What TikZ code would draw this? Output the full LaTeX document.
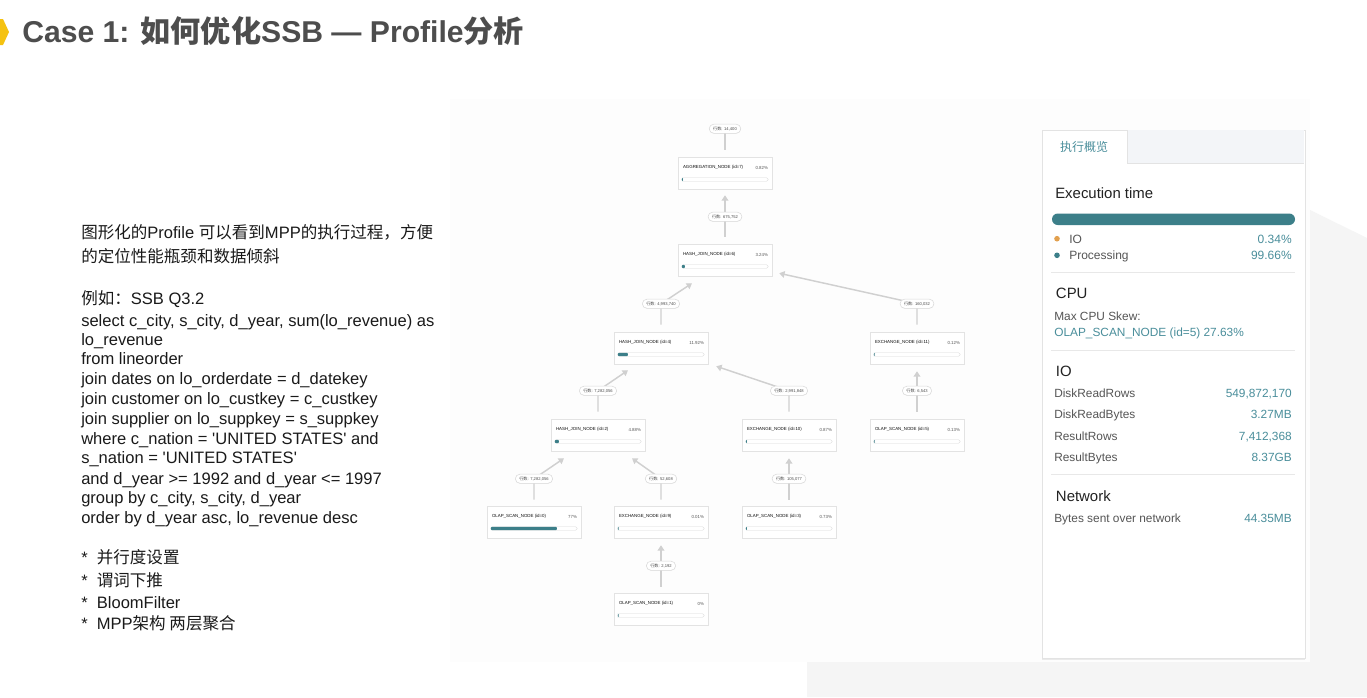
\documentclass[tikz,border=0pt]{standalone}
\usepackage{fontspec}
\setmainfont{Liberation Sans}
\newfontfamily\cjk{Noto Sans CJK SC}
\usetikzlibrary{calc,arrows.meta,shadows}
\definecolor{titlegray}{HTML}{4D4D4D}
\definecolor{chev}{HTML}{F5C211}
\definecolor{txtblack}{HTML}{1A1A1A}
\definecolor{teal1}{HTML}{3C7F89}
\definecolor{tealtxt}{HTML}{4A8E9B}
\definecolor{edgegray}{HTML}{D0D0D0}
\definecolor{boxborder}{HTML}{E3E3E3}
\definecolor{labborder}{HTML}{D9D9D9}
\definecolor{tabgray}{HTML}{F3F5F8}
\definecolor{sepgray}{HTML}{E8E8E8}
\definecolor{dotorange}{HTML}{E2A04E}
\definecolor{graytxt}{HTML}{555555}
\definecolor{darktxt}{HTML}{222222}
\definecolor{shotbg}{HTML}{FDFDFD}
\definecolor{bgpoly}{HTML}{F5F5F5}
\tikzset{
  pbox/.style={draw=boxborder, line width=0.4pt, fill=white, minimum width=70.5pt, minimum height=24pt, inner sep=0pt,
    drop shadow={opacity=0.12, shadow xshift=0pt, shadow yshift=-0.7pt}},
  ptitle/.style={font=\fontsize{3.3}{4}\selectfont, text=black!95, inner sep=0pt, anchor=west},
  ppct/.style={font=\fontsize{3.3}{4}\selectfont, text=black!65, inner sep=0pt, anchor=east},
  bartrack/.style={draw=labborder, line width=0.3pt, fill=white, rounded corners=1.2pt},
  edge/.style={draw=edgegray, line width=1.1pt},
  arr/.style={edge, -{Triangle[length=4pt,width=5pt]}},
  lab/.style={draw=labborder, fill=white, rounded corners=3.4pt, line width=0.4pt, minimum height=6.8pt,
    inner xsep=3pt, inner ysep=0pt, font=\fontsize{3.1}{4}\selectfont, text=black!70,
    drop shadow={opacity=0.08, shadow xshift=0pt, shadow yshift=-0.4pt}},
  body/.style={anchor=base west, inner sep=0pt, font=\fontsize{12.4}{14}\selectfont, text=txtblack},
  phead/.style={anchor=base west, inner sep=0pt, font=\fontsize{11.2}{13}\selectfont, text=darktxt},
  pkey/.style={anchor=base west, inner sep=0pt, font=\fontsize{8.9}{11}\selectfont, text=graytxt},
  pval/.style={anchor=base east, inner sep=0pt, font=\fontsize{8.9}{11}\selectfont, text=tealtxt},
  sepline/.style={draw=sepgray, line width=0.6pt}
}
\newcommand\treenode[6]{%
  \node[pbox] (#1) at (#2,#3) {};
  \node[ptitle] (#1-t) at ($(#1.north west)+(5,11)$) {#4};
  \node[ppct] (#1-p) at ($(#1.north east)+(-4,11)$) {#5};
  \draw[bartrack] ($(#1.north west)+(4,21)$) rectangle ($(#1.north east)+(-4,24.5)$);
  \fill[teal1, rounded corners=0.6pt] ($(#1.north west)+(4.2,21.2)$) rectangle ($(#1.north west)+(4.2+#6,24.3)$);
}
\newcommand\rowlab[1]{{\cjk 行数}: #1}
\begin{document}
\begin{tikzpicture}[x=0.75pt,y=-0.75pt]
\useasboundingbox (0,0) rectangle (1367,697);
\fill[white] (0,0) rectangle (1367,697);
% backgrounds
\fill[bgpoly] (1310,210) -- (1367,238) -- (1367,697) -- (807,697) -- (807,662) -- (1310,662) -- cycle;
\fill[shotbg] (450,99) rectangle (1310,662);
% title
\fill[chev] (0,19) -- (3,19) -- (9,32) -- (3,45) -- (0,45) -- cycle;
\node[anchor=base west, inner sep=0pt, font=\fontsize{22.6}{27}\selectfont\bfseries, text=titlegray] (title) at (22,42)
  {Case 1: {\cjk 如何优化}SSB — Profile{\cjk 分析}};
% left text
\node[body] (t1) at (81,238) {{\cjk 图形化的}Profile {\cjk 可以看到}MPP{\cjk 的执行过程，方便}};
\node[body] (t2) at (81,262) {{\cjk 的定位性能瓶颈和数据倾斜}};
\node[body] (t3) at (81,304) {{\cjk 例如：}SSB Q3.2};
\node[body] (t4) at (81,326) {select c\_city, s\_city, d\_year, sum(lo\_revenue) as};
\node[body] (t5) at (81,345) {lo\_revenue};
\node[body] (t6) at (81,364) {from lineorder};
\node[body] (t7) at (81,384) {join dates on lo\_orderdate = d\_datekey};
\node[body] (t8) at (81,404) {join customer on lo\_custkey = c\_custkey};
\node[body] (t9) at (81,424) {join supplier on lo\_suppkey = s\_suppkey};
\node[body] (t10) at (81,444) {where c\_nation = \textquotesingle UNITED STATES\textquotesingle{} and};
\node[body] (t11) at (81,463) {s\_nation = \textquotesingle UNITED STATES\textquotesingle};
\node[body] (t12) at (81,484) {and d\_year >= 1992 and d\_year <= 1997};
\node[body] (t13) at (81,503) {group by c\_city, s\_city, d\_year};
\node[body] (t14) at (81,523) {order by d\_year asc, lo\_revenue desc};
\node[body] (t15) at (81,563) {*\ \ {\cjk 并行度设置}};
\node[body] (t16) at (81,586) {*\ \ {\cjk 谓词下推}};
\node[body] (t17) at (81,608) {*\ \ BloomFilter};
\node[body] (t18) at (81,629) {*\ \ MPP{\cjk 架构 两层聚合}};
% tree nodes
\treenode{AGG7}{725}{173}{AGGREGATION\_NODE (id=7)}{0.82\%}{1}
\treenode{HJ6}{725}{260}{HASH\_JOIN\_NODE (id=6)}{3.24\%}{3}
\treenode{HJ4}{661}{348}{HASH\_JOIN\_NODE (id=4)}{11.92\%}{10}
\treenode{EX11}{917}{348}{EXCHANGE\_NODE (id=11)}{0.12\%}{0.8}
\treenode{HJ2}{598}{435}{HASH\_JOIN\_NODE (id=2)}{4.88\%}{4}
\treenode{EX10}{789}{435}{EXCHANGE\_NODE (id=10)}{0.87\%}{1}
\treenode{OS5}{917}{435}{OLAP\_SCAN\_NODE (id=5)}{0.13\%}{0.8}
\treenode{OS0}{534}{522}{OLAP\_SCAN\_NODE (id=0)}{77\%}{66}
\treenode{EX9}{661}{522}{EXCHANGE\_NODE (id=9)}{0.01\%}{0.8}
\treenode{OS3}{789}{522}{OLAP\_SCAN\_NODE (id=3)}{0.73\%}{1}
\treenode{OS1}{661}{609}{OLAP\_SCAN\_NODE (id=1)}{0\%}{0.6}
% bends
\coordinate (bAGG7) at ($(AGG7.north)+(0,-28)$);
\coordinate (bHJ6) at ($(HJ6.north)+(0,-27)$);
\coordinate (bHJ4) at ($(HJ4.north)+(0,-28)$);
\coordinate (bEX11) at ($(EX11.north)+(0,-28)$);
\coordinate (bHJ2) at ($(HJ2.north)+(0,-28)$);
\coordinate (bEX10) at ($(EX10.north)+(0,-28)$);
\coordinate (bOS5) at ($(OS5.north)+(0,-28)$);
\coordinate (bOS0) at ($(OS0.north)+(0,-27)$);
\coordinate (bEX9) at ($(EX9.north)+(0,-27)$);
\coordinate (bOS3) at ($(OS3.north)+(0,-27)$);
\coordinate (bOS1) at ($(OS1.north)+(0,-27)$);
% edges
\draw[edge] ($(AGG7.north)+(0,-7)$) -- (bAGG7);
\draw[arr] ($(HJ6.north)+(0,-7)$) -- ($(AGG7.south)+(0,6)$);
\draw[arr] ($(HJ4.north)+(0,-7)$) -- (bHJ4) -- ($(HJ6.south)+(-33,7)$);
\draw[arr] ($(EX11.north)+(0,-7)$) -- (bEX11) -- ($(HJ6.south east)+(7,-3)$);
\draw[arr] ($(HJ2.north)+(0,-7)$) -- (bHJ2) -- ($(HJ4.south)+(-33,6)$);
\draw[arr] ($(EX10.north)+(0,-7)$) -- (bEX10) -- ($(HJ4.south east)+(8,2)$);
\draw[arr] ($(OS5.north)+(0,-7)$) -- ($(EX11.south)+(0,7)$);
\draw[arr] ($(OS0.north)+(0,-6)$) -- (bOS0) -- ($(HJ2.south)+(-34,7)$);
\draw[arr] ($(EX9.north)+(0,-6)$) -- (bEX9) -- ($(HJ2.south)+(34,7)$);
\draw[arr] ($(OS3.north)+(0,-6)$) -- ($(EX10.south)+(0,7)$);
\draw[arr] ($(OS1.north)+(0,-6)$) -- ($(EX9.south)+(0,7)$);
% edge labels
\node[lab] (lAGG7) at (bAGG7) {\rowlab{14,400}};
\node[lab] (lHJ6) at (bHJ6) {\rowlab{675,752}};
\node[lab] (lHJ4) at (bHJ4) {\rowlab{4,993,740}};
\node[lab] (lEX11) at (bEX11) {\rowlab{160,032}};
\node[lab] (lHJ2) at (bHJ2) {\rowlab{7,282,056}};
\node[lab] (lEX10) at (bEX10) {\rowlab{2,991,848}};
\node[lab] (lOS5) at (bOS5) {\rowlab{6,543}};
\node[lab] (lOS0) at (bOS0) {\rowlab{7,282,056}};
\node[lab] (lEX9) at (bEX9) {\rowlab{52,608}};
\node[lab] (lOS3) at (bOS3) {\rowlab{105,077}};
\node[lab] (lOS1) at (bOS1) {\rowlab{2,192}};
% right panel
\node[draw=boxborder, line width=0.5pt, fill=white, anchor=north west, inner sep=0pt,
  minimum width=197.25pt, minimum height=396pt,
  drop shadow={opacity=0.15, shadow xshift=-0.4pt, shadow yshift=-1pt}] (panel) at (1042,130) {};
\fill[tabgray] (1127,130.4) rectangle (1303.6,163);
\draw[boxborder, line width=0.5pt] (1127,130.4) -- (1127,163) -- (1303.6,163);
\node[anchor=base, inner sep=0pt, font=\fontsize{9}{11}\selectfont\cjk, text=tealtxt] (tab) at (1084,151.6) {执行概览};
\node[phead] (hexec) at (1055,198) {Execution time};
\fill[teal1, rounded corners=4.3pt] (1052,213.5) rectangle (1295,225);
\fill[dotorange] (1057,238.7) circle (2.8);
\node[pkey, font=\fontsize{9}{11}\selectfont] (kio) at (1069,243) {IO};
\node[pval, font=\fontsize{9}{11}\selectfont] (vio) at (1292,243) {0.34\%};
\fill[teal1] (1057,255.3) circle (2.8);
\node[pkey, font=\fontsize{9}{11}\selectfont] (kproc) at (1069,259.6) {Processing};
\node[pval, font=\fontsize{9}{11}\selectfont] (vproc) at (1292,259.6) {99.66\%};
\draw[sepline] (1051,272.7) -- (1295,272.7);
\node[phead] (hcpu) at (1055.7,298.1) {CPU};
\node[pkey] (kskew) at (1054,320.3) {Max CPU Skew:};
\node[pkey, text=tealtxt] (vskew) at (1054,336.6) {OLAP\_SCAN\_NODE (id=5) 27.63\%};
\draw[sepline] (1051,350) -- (1295,350);
\node[phead] (hio) at (1055.7,376.1) {IO};
\node[pkey] (k1) at (1054,397.6) {DiskReadRows};
\node[pval] (v1) at (1292,397.6) {549,872,170};
\node[pkey] (k2) at (1054,418.6) {DiskReadBytes};
\node[pval] (v2) at (1292,418.6) {3.27MB};
\node[pkey] (k3) at (1054,440.3) {ResultRows};
\node[pval] (v3) at (1292,440.3) {7,412,368};
\node[pkey] (k4) at (1054,461.3) {ResultBytes};
\node[pval] (v4) at (1292,461.3) {8.37GB};
\draw[sepline] (1051,474.3) -- (1295,474.3);
\node[phead] (hnet) at (1055.7,501.1) {Network};
\node[pkey] (k5) at (1054,522) {Bytes sent over network};
\node[pval] (v5) at (1292,522) {44.35MB};
\end{tikzpicture}
\end{document}
